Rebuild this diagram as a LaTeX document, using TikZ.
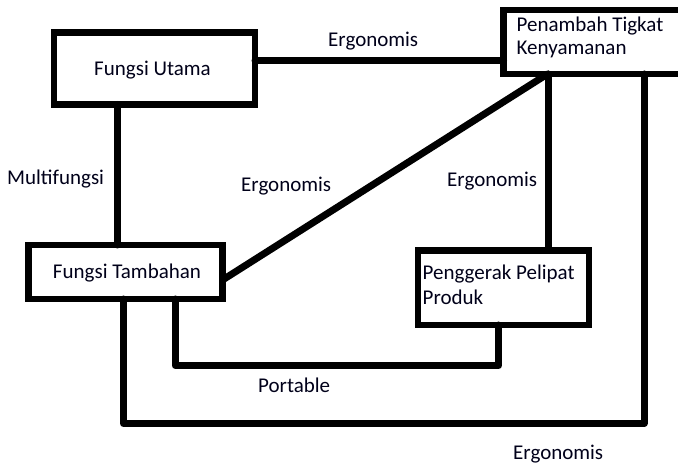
\documentclass[tikz,border=0pt]{standalone}
\usepackage{fontspec}
\setmainfont{Carlito}
\begin{document}
\begin{tikzpicture}[x=1pt,y=-1pt,
  font=\fontsize{21}{24}\selectfont,
  every node/.style={text=black!90!blue},
  box/.style={draw=black,line width=6.5pt,rectangle,inner sep=0pt,outer sep=0pt,fill=white},
  conn/.style={draw=black,line width=7pt,line join=round,line cap=round},
  lbl/.style={anchor=base west,inner sep=0pt}]
\useasboundingbox (0,0) rectangle (678,465);
\clip (0,0) rectangle (678,465);

% helper heights for the two routed lines
\coordinate (portY) at (0,365.5);
\coordinate (ergY) at (0,423.5);

% boxes
\node[box,minimum width=201pt,minimum height=72pt] (util) at (154.5,68.5) {};
\node[box,minimum width=210pt,minimum height=64pt] (pen) at (608.5,42) {};
\node[box,minimum width=194pt,minimum height=54pt] (tam) at (125.5,272) {};
\node[box,minimum width=171pt,minimum height=74.5pt] (ger) at (503.5,287.75) {};

% connectors
\draw[conn] ([yshift=7.5pt]util.east) -- ([yshift=7.5pt]util.east -| pen.west);
\draw[conn] ([xshift=-37.5pt]util.south) -- ([xshift=-37.5pt]util.south |- tam.north);
\draw[conn] ([yshift=-8pt]tam.east) -- ([xshift=44pt]pen.south west);
\draw[conn] ([xshift=45pt]pen.south west) -- ([xshift=45pt]pen.south west |- ger.north);
\draw[conn] ([xshift=49.5pt]tam.south) |- ([xshift=-5pt]ger.south |- portY) -- ([xshift=-5pt]ger.south);
\draw[conn] ([xshift=-2pt]tam.south) |- ([xshift=140.5pt]pen.south west |- ergY) -- ([xshift=140.5pt]pen.south west);

% box texts
\node[inner sep=0pt] (utilt) at ([xshift=-2pt,yshift=-2pt]util.center) {Fungsi Utama};
\node[inner sep=0pt] (tamt) at ([xshift=1.5pt,yshift=-1pt]tam.center) {Fungsi Tambahan};
\node[lbl] (pent1) at (516.5,31.7) {Penambah Tigkat};
\node[lbl] (pent2) at (516.5,55) {Kenyamanan};
\node[lbl] (gert1) at (422.5,280) {Penggerak Pelipat};
\node[lbl] (gert2) at (422.5,305) {Produk};

% connector labels
\node[lbl] (l1) at (328,47) {Ergonomis};
\node[lbl] (l2) at (7,185) {Multifungsi};
\node[lbl] (l3) at (241,192) {Ergonomis};
\node[lbl] (l4) at (447,187) {Ergonomis};
\node[lbl] (l5) at (258,392) {Portable};
\node[lbl] (l6) at (513,459) {Ergonomis};
\end{tikzpicture}
\end{document}
